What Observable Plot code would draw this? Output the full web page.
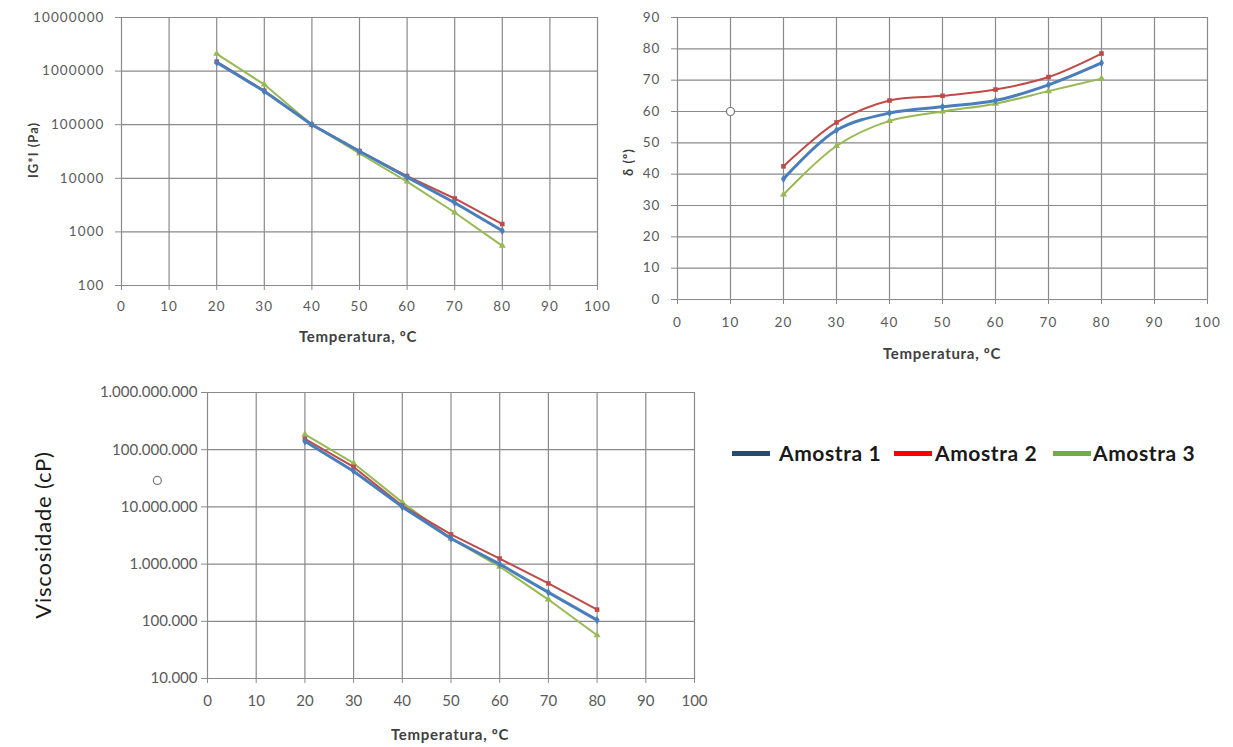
<!DOCTYPE html>
<html><head><meta charset="utf-8">
<script src="https://cdn.jsdelivr.net/npm/d3@7"></script>
<script src="https://cdn.jsdelivr.net/npm/@observablehq/plot@0.6"></script>
<style>
body{margin:0;background:#fff;font-family:Lato,"Open Sans",sans-serif;}
#root{position:relative;width:1233px;height:747px;overflow:hidden;}
.p{position:absolute;}
.lbl{position:absolute;font-weight:bold;color:#404040;font-size:15px;letter-spacing:0.7px;white-space:nowrap;}
.legt{position:absolute;top:440px;font-weight:bold;font-size:21px;letter-spacing:0.6px;color:#1a1a1a;white-space:nowrap;}
.sw{position:absolute;top:451px;width:38px;height:5px;}
</style></head>
<body><div id="root"></div>
<script>
const temps = [20, 30, 40, 50, 60, 70, 80];
const series = ["Amostra 1", "Amostra 2", "Amostra 3"];
// |G*| (Pa)
const g1 = [1.45e6, 4.2e5, 1.0e5, 3.2e4, 1.05e4, 3.5e3, 1.05e3];
const g2 = [1.5e6, 4.3e5, 1.0e5, 3.2e4, 1.1e4, 4.2e3, 1.4e3];
const g3 = [2.1e6, 5.6e5, 1.0e5, 2.9e4, 8.7e3, 2.3e3, 5.5e2];
// delta (º)
const d1 = [38.5, 54, 59.5, 61.5, 63.5, 68.5, 75.5];
const d2 = [42.5, 56.5, 63.5, 65, 67, 71, 78.5];
const d3 = [33.5, 49, 57, 60, 62.5, 66.5, 70.5];
// Viscosidade (cP)
const v1 = [1.4e8, 4.2e7, 1.0e7, 2.8e6, 1.0e6, 3.2e5, 1.05e5];
const v2 = [1.55e8, 5.0e7, 1.05e7, 3.3e6, 1.25e6, 4.6e5, 1.6e5];
const v3 = [1.85e8, 5.8e7, 1.2e7, 2.8e6, 9.0e5, 2.4e5, 5.7e4];
// stray markers visible in the source
const strayDelta = [{x: 10, y: 60}];
const strayVisc = [{x: -10.3, y: 2.9e7}];
const xTicks = [0, 10, 20, 30, 40, 50, 60, 70, 80, 90, 100];
const gTicks = [1e2, 1e3, 1e4, 1e5, 1e6, 1e7];
const dTicks = [0, 10, 20, 30, 40, 50, 60, 70, 80, 90];
const vTicks = [1e4, 1e5, 1e6, 1e7, 1e8, 1e9];

const lineColors = ["#4A7EBB", "#BE4B48", "#98B954"];
const lineWidths = [3, 2, 2];
const legendColors = ["#1F4E79", "#FF0000", "#70AD47"];

function rows(arrs){ return arrs.flatMap((a,i)=>a.map((v,j)=>({s:series[i], x:temps[j], y:v}))); }
const gData = rows([g1,g2,g3]);
const dData = rows([d1,d2,d3]);
const vData = rows([v1,v2,v3]);

const grid = "#8a8a8a";
function chart({data, w, h, ml, mr, mt, mb, ytype, ydomain, yticks, yfmt, fs, ls, xpad, ypad, curve, stray}){
  const marks = [
    Plot.gridX(xTicks, {stroke: grid, strokeOpacity: 1, strokeWidth: 1.2}),
    Plot.gridY(yticks, {stroke: grid, strokeOpacity: 1, strokeWidth: 1.2}),
    Plot.axisX(xTicks, {tickSize: 5, tickPadding: xpad, stroke: grid, fill: "#5a5a5a", fontSize: fs, label: null}),
    Plot.axisY(yticks, {tickSize: 6, tickPadding: ypad, stroke: grid, fill: "#5a5a5a", fontSize: fs, label: null, tickFormat: yfmt}),
  ];
  series.slice().reverse().forEach((s)=>{
    const i = series.indexOf(s);
    const d = data.filter(r=>r.s===s);
    marks.push(Plot.line(d, {x:"x", y:"y", stroke: lineColors[i], strokeWidth: lineWidths[i], curve}));
    marks.push(Plot.dot(d, {x:"x", y:"y", fill: lineColors[i], r: 2.6, symbol: ["diamond","square","triangle"][i]}));
  });
  if (stray) marks.push(Plot.dot(stray, {x:"x", y:"y", r: 4, fill:"#fff", stroke:"#777", strokeWidth:1.2, clip:false}));
  return Plot.plot({
    width: w, height: h, marginLeft: ml, marginRight: mr, marginTop: mt, marginBottom: mb,
    style: {fontFamily: "Lato, 'Open Sans', sans-serif", background: "transparent", overflow: "visible", letterSpacing: ls+"px"},
    x: {domain: [0, 100], axis: null},
    y: {type: ytype, domain: ydomain, axis: null},
    marks
  });
}
const root = document.getElementById("root");
function place(el, left, top){ el.classList.add("p"); el.style.left = left+"px"; el.style.top = top+"px"; root.appendChild(el); }

place(chart({data:gData, w:620, h:350, ml:121, mr:23, mt:17, mb:65, ytype:"log", ydomain:[100,1e7], yticks:gTicks,
  yfmt: d=>String(Math.round(d)), fs:13.5, ls:1.1, xpad:11, ypad:11, curve:"linear"}), 0, 0);
place(chart({data:dData, w:613, h:370, ml:57, mr:26, mt:17, mb:71, ytype:"linear", ydomain:[0,90], yticks:dTicks,
  yfmt: d=>String(d), fs:13.5, ls:1.1, xpad:13, ypad:11, curve:"catmull-rom", stray:strayDelta}), 620, 0);
place(chart({data:vData, w:720, h:377, ml:207, mr:26, mt:22, mb:69, ytype:"log", ydomain:[1e4,1e9], yticks:vTicks,
  yfmt: d=>Math.round(d).toString().replace(/\B(?=(\d{3})+(?!\d))/g, "."), fs:15, ls:0, xpad:12, ypad:4, curve:"linear", stray:strayVisc}), 0, 370);

function label(text, x, y, opts={}){
  const d = document.createElement("div");
  d.className = "lbl"; d.textContent = text;
  d.style.left = x+"px"; d.style.top = y+"px";
  d.style.transform = opts.rot ? "translate(-50%,-50%) rotate(-90deg)" : "translate(-50%,-50%)";
  if (opts.size) d.style.fontSize = opts.size+"px";
  if (opts.weight) d.style.fontWeight = opts.weight;
  if (opts.color) d.style.color = opts.color;
  if (opts.ls != null) d.style.letterSpacing = opts.ls+"px";
  root.appendChild(d);
}
label("Temperatura, ºC", 358, 336);
label("IG*I  (Pa)", 33, 150, {rot:true, size:13, ls:1});
label("Temperatura, ºC", 942, 353);
label("δ (º)", 628, 162, {rot:true, size:13, ls:1});
label("Temperatura, ºC", 450, 734);
label("Viscosidade  (cP)", 42, 535, {rot:true, size:22, weight:"normal", color:"#1a1a1a", ls:0.8});

const swX = [732, 894, 1053];
const txtX = [779, 935, 1093];
series.forEach((s,i)=>{
  const sw = document.createElement("div"); sw.className = "sw";
  sw.style.left = swX[i]+"px"; sw.style.background = legendColors[i];
  root.appendChild(sw);
  const t = document.createElement("div"); t.className = "legt";
  t.style.left = txtX[i]+"px"; t.textContent = s;
  root.appendChild(t);
});
</script></body></html>
